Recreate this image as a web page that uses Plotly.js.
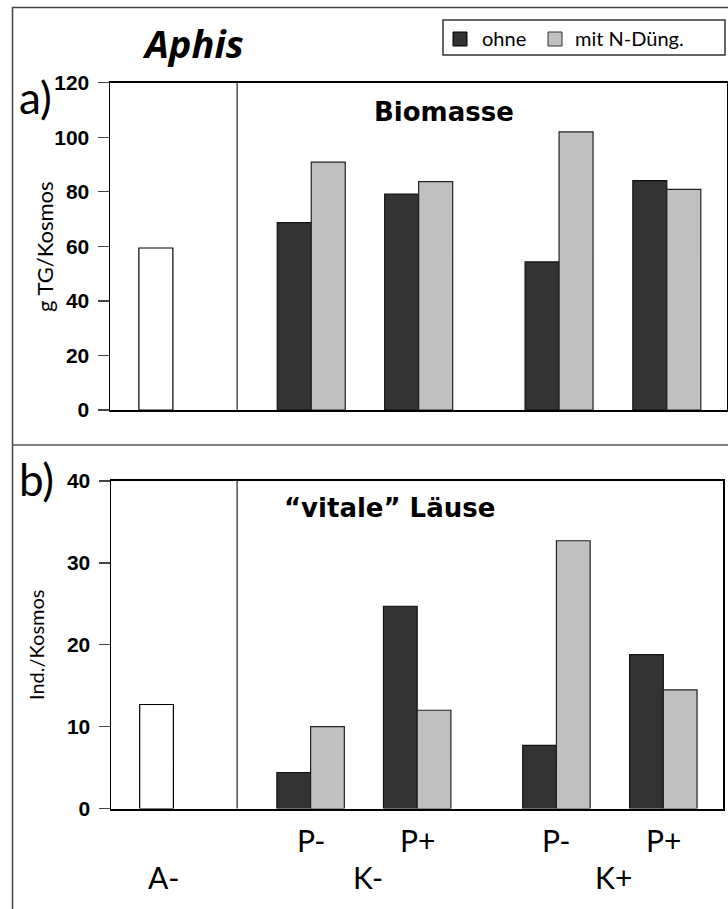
<!DOCTYPE html>
<html>
<head>
<meta charset="utf-8">
<script src="https://cdn.plot.ly/plotly-3.0.1.min.js"></script>
<style>html,body{margin:0;padding:0;background:#fff;}#chart{width:728px;height:909px;}</style>
</head>
<body>
<div id="chart"></div>
<script>
// ---- data ----
const categories = ["A-", "K- P-", "K- P+", "K+ P-", "K+ P+"];
const pLabels = ["P-", "P+", "P-", "P+"];
const kLabels = ["K-", "K+"];
const controlLabel = "A-";
const seriesNames = ["ohne", "mit N-Düng."];

const controlBiomasse = [59.4];
const ohneBiomasse = [68.7, 79.2, 54.3, 84.1];
const mitBiomasse = [90.9, 83.7, 102.0, 80.9];

const controlLaeuse = [12.7];
const ohneLaeuse = [4.4, 24.7, 7.7, 18.8];
const mitLaeuse = [10.0, 12.0, 32.7, 14.5];

const yTicksA = [0, 20, 40, 60, 80, 100, 120];
const yTicksB = [0, 10, 20, 30, 40];

// ---- layout constants ----
const W = 728, H = 909;
const px = v => v / W;
const py = v => 1 - v / H;
const xRange = [0, 18.15];
const controlPos = 1.35;
const groupPos = [5.92, 9.08, 13.21, 16.38];
const sepPos = 3.74;
const kPos = [(groupPos[0] + groupPos[1]) / 2 + 0.12, (groupPos[2] + groupPos[3]) / 2 + 0.12];

const DARK = "#333333", LIGHT = "#c0c0c0";
const gill = "Lato, 'Noto Sans', sans-serif";

function barTrace(x, y, color, lineColor, offset, xa, ya, name) {
  return {
    type: "bar", x: x, y: y, name: name,
    width: 1, offset: offset,
    marker: {color: color, line: {color: lineColor, width: 1.2}},
    xaxis: xa, yaxis: ya, showlegend: false, hoverinfo: "y"
  };
}

const data = [
  barTrace([controlPos], controlBiomasse, "#ffffff", "#000", -0.5, "x", "y", categories[0]),
  barTrace(groupPos, ohneBiomasse, DARK, "#111", -1, "x", "y", seriesNames[0]),
  barTrace(groupPos, mitBiomasse, LIGHT, "#222", 0, "x", "y", seriesNames[1]),
  barTrace([controlPos], controlLaeuse, "#ffffff", "#000", -0.5, "x2", "y2", categories[0]),
  barTrace(groupPos, ohneLaeuse, DARK, "#111", -1, "x2", "y2", seriesNames[0]),
  barTrace(groupPos, mitLaeuse, LIGHT, "#222", 0, "x2", "y2", seriesNames[1])
];

const xCommon = {range: xRange, showgrid: false, zeroline: false, showticklabels: false, ticks: "",
  showline: true, linecolor: "#000", linewidth: 2, mirror: true, fixedrange: true};
const yCommon = {showgrid: false, zeroline: false, showline: true, linecolor: "#000", linewidth: 1.5,
  mirror: true, ticks: "outside", ticklen: 11, tickwidth: 1.3, tickcolor: "#444",
  tickfont: {family: "'Liberation Sans', Arial, sans-serif", size: 21, color: "#000"},
  ticklabelstandoff: 4, tickmode: "array", fixedrange: true};

const ann = [];
function txt(text, x, y, size, opts) {
  ann.push(Object.assign({text: text, x: px(x), y: py(y), xref: "paper", yref: "paper",
    showarrow: false, xanchor: "center", yanchor: "middle",
    font: {family: gill, size: size, color: "#000"}}, opts || {}));
}
txt("<b><i>Aphis</i></b>", 193, 43, 38, {font: {family: "'Open Sans', Lato, sans-serif", size: 38, color: "#000"}});
txt("a)", 35, 97, 44);
txt("b)", 36, 479, 44);
txt("<b>Biomasse</b>", 444, 112, 26, {font: {family: "'DejaVu Sans', sans-serif", size: 26, color: "#000"}});
txt("<b>“vitale” Läuse</b>", 389, 508, 26, {font: {family: "'DejaVu Sans', sans-serif", size: 26, color: "#000"}});
txt("g TG/Kosmos", 45, 247, 22, {textangle: -90});
txt("Ind./Kosmos", 36, 645, 20, {textangle: -90});
txt(seriesNames[0], 480, 38, 20, {xanchor: "left"});
txt(seriesNames[1], 573, 38, 20, {xanchor: "left"});

// category labels (positioned in panel-b x data coords)
const catFont = {family: gill, size: 30, color: "#000"};
pLabels.forEach((t, i) => ann.push({text: t, x: groupPos[i], xref: "x2", y: py(840), yref: "paper",
  showarrow: false, xanchor: "center", yanchor: "middle", font: catFont}));
kLabels.forEach((t, i) => ann.push({text: t, x: kPos[i], xref: "x2", y: py(877), yref: "paper",
  showarrow: false, xanchor: "center", yanchor: "middle", font: catFont}));
ann.push({text: controlLabel, x: controlPos + 0.2, xref: "x2", y: py(877), yref: "paper",
  showarrow: false, xanchor: "center", yanchor: "middle", font: catFont});

const shapes = [
  // outer frame
  {type: "rect", xref: "paper", yref: "paper", x0: px(12.5), x1: px(760), y0: py(960), y1: py(7.5),
   line: {color: "#444", width: 1.5}, fillcolor: "rgba(0,0,0,0)", layer: "below"},
  // panel separator
  {type: "line", xref: "paper", yref: "paper", x0: px(12.5), x1: 1, y0: py(445), y1: py(445),
   line: {color: "#555", width: 1.5}},
  // vertical separators
  {type: "line", xref: "x", yref: "y domain", x0: sepPos, x1: sepPos, y0: 0, y1: 1, line: {color: "#222", width: 1.2}},
  {type: "line", xref: "x2", yref: "y2 domain", x0: sepPos, x1: sepPos, y0: 0, y1: 1, line: {color: "#222", width: 1.2}},
  // legend box
  {type: "rect", xref: "paper", yref: "paper", x0: px(443), x1: px(725), y0: py(55), y1: py(20),
   line: {color: "#333", width: 1.5}, fillcolor: "#fff"},
  {type: "rect", xref: "paper", yref: "paper", x0: px(453), x1: px(467), y0: py(46), y1: py(32),
   line: {color: "#000", width: 1}, fillcolor: DARK},
  {type: "rect", xref: "paper", yref: "paper", x0: px(548), x1: px(562), y0: py(46), y1: py(32),
   line: {color: "#333", width: 1}, fillcolor: LIGHT}
];

const bold = v => "<b>" + v + "</b>";
const layout = {
  width: W, height: H, autosize: false,
  margin: {l: 0, r: 0, t: 0, b: 0, pad: 0},
  paper_bgcolor: "#fff", plot_bgcolor: "#fff",
  barmode: "overlay", showlegend: false,
  xaxis: Object.assign({}, xCommon, {domain: [px(110), px(727)], anchor: "y"}),
  yaxis: Object.assign({}, yCommon, {domain: [py(410), py(82.7)], range: [0, 120],
    tickvals: yTicksA, ticktext: yTicksA.map(bold), anchor: "x"}),
  xaxis2: Object.assign({}, xCommon, {domain: [px(111), px(723)], anchor: "y2"}),
  yaxis2: Object.assign({}, yCommon, {domain: [py(808.5), py(481)], range: [0, 40],
    tickvals: yTicksB, ticktext: yTicksB.map(bold), anchor: "x2"}),
  annotations: ann,
  shapes: shapes
};

Plotly.newPlot("chart", data, layout, {staticPlot: true, displayModeBar: false});
</script>
</body>
</html>
